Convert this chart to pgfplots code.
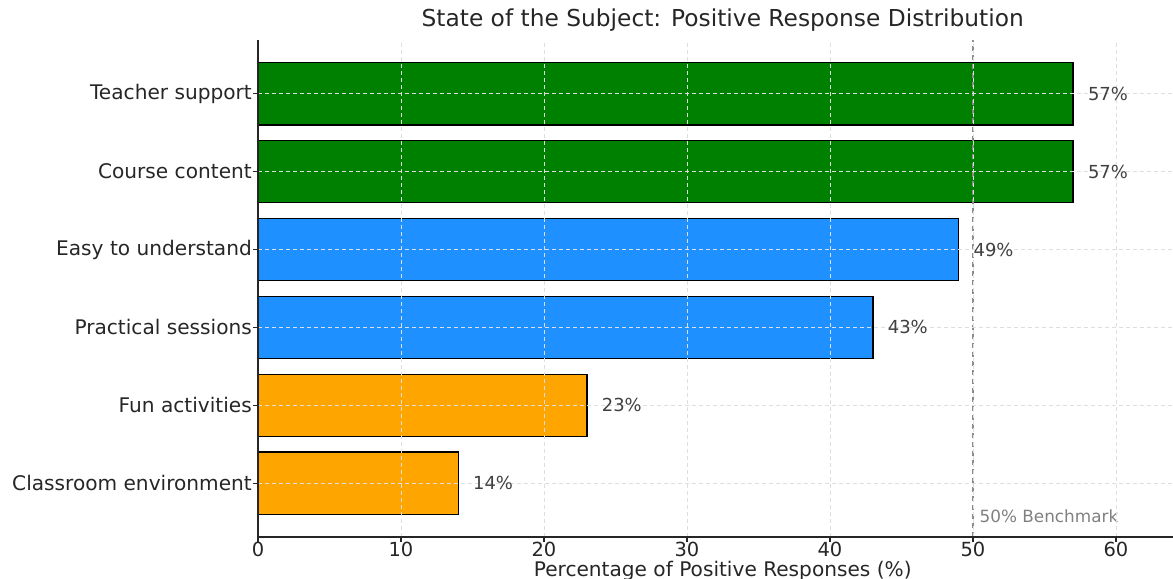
\documentclass[border=0pt]{standalone}
\usepackage{pgfplots}
\pgfplotsset{compat=1.18}
\usepackage{fontspec}
\setmainfont{DejaVu Sans}
\definecolor{mgreen}{HTML}{008000}
\definecolor{dblue}{HTML}{1E90FF}
\definecolor{morange}{HTML}{FFA500}
\definecolor{txt}{HTML}{262626}
\begin{document}
\begin{tikzpicture}
\useasboundingbox (0,0) rectangle (1173bp,579bp);
\begin{axis}[
  at={(258bp,42bp)}, anchor=south west,
  scale only axis, width=929.5bp, height=497bp,
  xmin=0, xmax=65, ymin=-0.69, ymax=5.69,
  axis x line*=bottom, axis y line*=left,
  axis line style={line width=1.6bp, black!85},
  xtick={0,10,...,60},
  ytick={0,...,5},
  yticklabels={Classroom environment, Fun activities, Practical sessions, Easy to understand, Course content, Teacher support},
  tick align=outside,
  major tick length=5bp,
  tick style={line width=1.2bp, black!85},
  /pgf/number format/assume math mode=true,
  xticklabel style={font=\fontsize{19.5}{20}\selectfont, text=txt, inner sep=0.5bp, yshift=1bp},
  yticklabel style={font=\fontsize{20.2}{21}\selectfont, text=txt, inner xsep=1bp},
  grid=major,
  major grid style={dash pattern=on 4bp off 3bp, line width=0.8bp, black!13},
  axis on top,
  xlabel={Percentage of Positive Responses (\%)},
  xlabel style={font=\fontsize{20.2}{21}\selectfont, text=txt, at={(axis description cs:0.5,0)}, anchor=base, yshift=-39bp, inner sep=0pt},
  title={State of the Subject: Positive Response Distribution},
  title style={font=\fontsize{23.4}{25}\selectfont, text=txt, at={(axis description cs:0.5,1)}, anchor=base, yshift=8bp},
  barlbl/.style={nodes near coords={\pgfmathprintnumber{\pgfplotspointmeta}\%},
    nodes near coords style={font=\fontsize{18}{19}\selectfont, text=black!75, anchor=west, inner xsep=0pt, xshift=14.3bp},
    point meta=x},
]
\addplot[xbar, bar width=0.8, bar shift=0pt, fill=mgreen, draw=black, line width=1.3bp, barlbl] coordinates {(57,5) (57,4)};
\addplot[xbar, bar width=0.8, bar shift=0pt, fill=dblue, draw=black, line width=1.3bp, barlbl] coordinates {(49,3) (43,2)};
\addplot[xbar, bar width=0.8, bar shift=0pt, fill=morange, draw=black, line width=1.3bp, barlbl] coordinates {(23,1) (14,0)};
\addplot[dash pattern=on 5bp off 4bp, line width=1.3bp, gray!90, forget plot] coordinates {(50,-0.69) (50,5.69)};
\node[anchor=base west, text=gray, inner sep=0pt, font=\fontsize{16.9}{18}\selectfont] at (axis cs:50.45,-0.51) {50\% Benchmark};
\end{axis}
\end{tikzpicture}
\end{document}
